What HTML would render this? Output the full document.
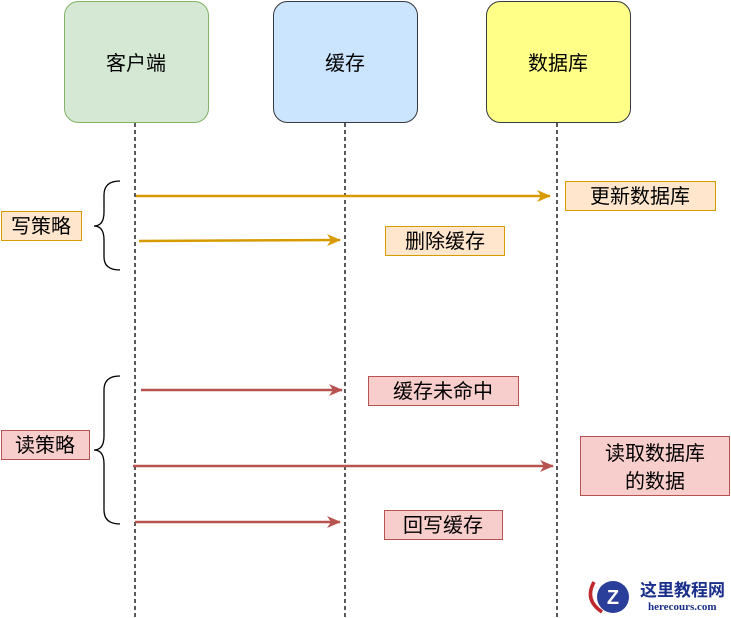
<!DOCTYPE html>
<html><head><meta charset="utf-8"><style>html,body{margin:0;padding:0;background:#fff}svg{display:block}text{font-family:"Liberation Sans","Noto Sans CJK SC",sans-serif;font-size:20px;fill:#000}</style></head>
<body>
<svg width="731" height="618" viewBox="0 0 731 618" xmlns="http://www.w3.org/2000/svg">
<defs>
<marker id="ao" markerWidth="14" markerHeight="14" refX="13" refY="7" orient="auto" markerUnits="userSpaceOnUse"><path d="M0,1 L14,7 L0,13 L4,7 Z" fill="#d79b00"/></marker>
<marker id="ar" markerWidth="14" markerHeight="14" refX="13" refY="7" orient="auto" markerUnits="userSpaceOnUse"><path d="M0,1 L14,7 L0,13 L4,7 Z" fill="#b85450"/></marker>
</defs>
<g stroke="#000" stroke-dasharray="4 3" stroke-width="1.3">
<line x1="135" y1="123" x2="135" y2="618"/><line x1="345" y1="123" x2="345" y2="618"/><line x1="557" y1="123" x2="557" y2="618"/>
</g>
<rect x="64.5" y="1.5" width="144" height="121" rx="14" fill="#d5e8d4" stroke="#82b366"/>
<rect x="273.5" y="1.5" width="144" height="121" rx="14" fill="#cce5ff" stroke="#36393d"/>
<rect x="486.5" y="1.5" width="144" height="121" rx="14" fill="#ffff88" stroke="#36393d"/>
<text x="136" y="70" text-anchor="middle">客户端</text>
<text x="345" y="70" text-anchor="middle">缓存</text>
<text x="558" y="70" text-anchor="middle">数据库</text>
<g stroke="#d79b00" stroke-width="2.5" fill="none">
<line x1="136" y1="196" x2="550" y2="196" marker-end="url(#ao)"/>
<line x1="139" y1="241" x2="340" y2="240" marker-end="url(#ao)"/>
</g>
<g stroke="#b85450" stroke-width="2.5" fill="none">
<line x1="141" y1="390" x2="342" y2="390" marker-end="url(#ar)"/>
<line x1="133" y1="466" x2="553" y2="466" marker-end="url(#ar)"/>
<line x1="135" y1="522" x2="340" y2="522" marker-end="url(#ar)"/>
</g>
<g stroke="#000" stroke-width="1.3" fill="none">
<path d="M120,181 Q104,181 104,195 L104,212 Q104,226 94,226 Q104,226 104,240 L104,257 Q104,270 120,270"/>
<path d="M120,376 Q104,376 104,390 L104,436 Q104,450 94,450 Q104,450 104,464 L104,510 Q104,524 120,524"/>
</g>
<g fill="#ffe6cc" stroke="#d79b00">
<rect x="565.5" y="181.5" width="150" height="29"/>
<rect x="385.5" y="226.5" width="119" height="29"/>
<rect x="1.5" y="211.5" width="80" height="29"/>
</g>
<g fill="#f8cecc" stroke="#b85450">
<rect x="368.5" y="376.5" width="150" height="29"/>
<rect x="580.5" y="436.5" width="149" height="59"/>
<rect x="384.5" y="510.5" width="118" height="29"/>
<rect x="1.5" y="430.5" width="88" height="29"/>
</g>
<text x="640" y="203" text-anchor="middle">更新数据库</text>
<text x="445" y="248" text-anchor="middle">删除缓存</text>
<text x="41" y="233" text-anchor="middle">写策略</text>
<text x="443" y="398" text-anchor="middle">缓存未命中</text>
<text x="655" y="460" text-anchor="middle">读取数据库</text>
<text x="655" y="488" text-anchor="middle">的数据</text>
<text x="443" y="532" text-anchor="middle">回写缓存</text>
<text x="45" y="452" text-anchor="middle">读策略</text>
<circle cx="613" cy="597" r="16" fill="#2a3f9a"/>
<path d="M594,582 Q584,600 602,612" stroke="#c0282d" stroke-width="3.5" fill="none"/>
<text x="613" y="604" text-anchor="middle" style="font-size:20px;font-weight:bold;fill:#fff">Z</text>
<text x="640" y="596" style="font-size:17px;font-weight:bold;fill:#1a2f8a">这里教程网</text>
<text x="648" y="610" style="font-size:11px;font-weight:bold;fill:#1a2f8a;font-family:'Liberation Serif',serif">herecours.com</text>
</svg>
</body></html>
